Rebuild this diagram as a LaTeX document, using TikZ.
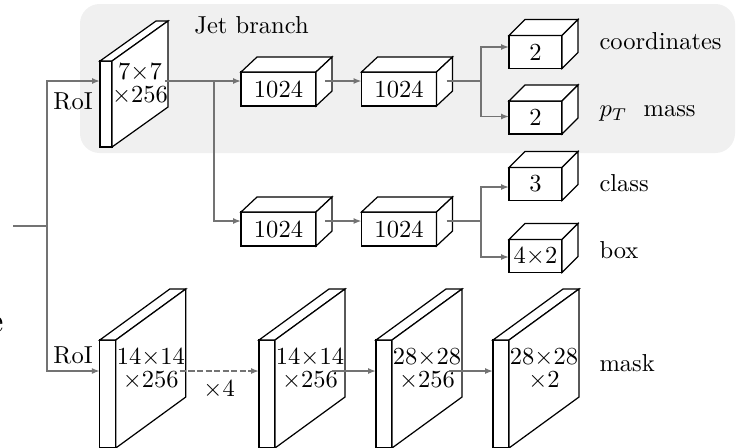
\documentclass[tikz,border=0pt]{standalone}
\usetikzlibrary{calc,arrows.meta}

\definecolor{panel}{gray}{0.94}
\definecolor{wire}{gray}{0.45}
% one drawing unit
\def\unitpx{0.408pt}

\tikzset{
  face/.style={draw=black, fill=white, line width=0.5pt, outer sep=0pt, inner sep=0pt},
  conn/.style={draw=wire, line width=0.6pt},
  arr/.style={conn, -{Latex[length=3.2pt,width=2.4pt]}},
  lbl/.style={inner sep=0pt, anchor=base west},
  % small block: width, height, depth x, depth y, text on the front
  pics/cube/.style n args={5}{code={
    \node[face, inner sep=1pt, minimum width=#1*\unitpx, minimum height=#2*\unitpx] (-f) {#5};
    \filldraw[face] (-f.north west) -- ++(#3,-#4) -- ++(#1,0) -- (-f.north east) -- cycle;
    \filldraw[face] (-f.north east) -- ++(#3,-#4) -- ++(0,#2) -- (-f.south east) -- cycle;
  }},
  % feature map: thin front, text on the large side face
  pics/fmap/.style n args={5}{code={
    \node[face, minimum width=#1*\unitpx, minimum height=#2*\unitpx] (-f) {};
    \filldraw[face] (-f.north west) -- ++(#3,-#4) -- ++(#1,0) -- (-f.north east) -- cycle;
    \filldraw[face] (-f.north east) -- ++(#3,-#4) -- ++(0,#2) -- (-f.south east) -- cycle;
    \path (-f.east) ++(#3/2,-#4/2) node[align=center, inner sep=0pt] (-t) {#5};
  }},
}

\begin{document}
\begin{tikzpicture}[x=\unitpx, y=-\unitpx]
\useasboundingbox (0,0) rectangle (738,447);

% jet branch panel
\fill[panel, rounded corners=8pt] (80,4) rectangle (735,153);
\node[lbl] (jet) at (194,33) {Jet branch};

% feature maps
\pic (m0) at (106,104) {fmap={12}{86}{56}{40}{7$\times$7\\[-2.5pt]$\times$256}};
\pic (m1) at (107.8,394) {fmap={16}{108}{70}{51}{14$\times$14\\[-2.5pt]$\times$256}};
\pic (m2) at (267,394) {fmap={16}{108}{70}{51}{14$\times$14\\[-2.5pt]$\times$256}};
\pic (m3) at (384,394) {fmap={16}{108}{70}{51}{28$\times$28\\[-2.5pt]$\times$256}};
\pic (m4) at (501,394) {fmap={16}{108}{70}{51}{28$\times$28\\[-2.5pt]$\times$2}};

% fully connected blocks
\pic (b1) at (278.5,89) {cube={75}{34}{16}{15}{1024}};
\pic (b2) at (399,89) {cube={75}{34}{16}{15}{1024}};
\pic (b3) at (278.5,229) {cube={75}{34}{16}{15}{1024}};
\pic (b4) at (399,229) {cube={75}{34}{16}{15}{1024}};

% output blocks
\pic (o1) at (535.5,52) {cube={53}{33}{16}{16}{2}};
\pic (o2) at (535.5,117.5) {cube={53}{33}{16}{16}{2}};
\pic (o3) at (535.5,184) {cube={53}{33}{16}{16}{3}};
\pic (o4) at (535.5,256) {cube={53}{33}{16}{16}{4$\times$2}};

% input and RoI connectors
\coordinate (in) at (13,226);
\coordinate (split) at (47,226);
\draw[conn] (in) -- (split);
\draw[arr] (split) |- ($(m0-f.north west)+(0,20)$);
\draw[arr] (split) |- ($(m1-f.north west)+(0,31)$);

% box / class / jet heads
\coordinate (j0) at ($(m0-f.north east)+(53,20)$);
\draw[arr] (j0) -- ($(b1-f.west)+(0,-8)$);
\coordinate (fork) at (214,81);
\draw[arr] (fork) |- ($(b3-f.west)+(0,-8)$);
\draw[arr] ($(b1-f.east)+(9,-8)$) -- ($(b2-f.west)+(0,-8)$);
\draw[arr] ($(b3-f.east)+(9,-8)$) -- ($(b4-f.west)+(0,-8)$);

\coordinate (s1) at (481,81);
\draw[conn] ($(b2-f.east)+(10,-8)$) -- (s1);
\draw[arr] (s1) |- ($(o1-f.west)+(0,-5)$);
\draw[arr] (s1) |- ($(o2-f.west)+(0,-1)$);

\coordinate (s2) at (481,221);
\draw[conn] ($(b4-f.east)+(10,-8)$) -- (s2);
\draw[arr] (s2) |- ($(o3-f.west)+(0,3)$);
\draw[arr] (s2) |- ($(o4-f.west)+(0,1)$);

% mask head
\draw[arr, dash pattern=on 2.5pt off 1pt] ($(m1-f.north east)+(64,31)$) -- ($(m2-f.north west)+(0,31)$);
\draw[arr] ($(m2-f.north east)+(57,31)$) -- ($(m3-f.north west)+(0,31)$);
\draw[arr] ($(m3-f.north east)+(57,31)$) -- ($(m4-f.north west)+(0,31)$);

% labels
\node[lbl] (roi1) at (53,109) {RoI};
\node[lbl] (roi2) at (53,363) {RoI};
\node[lbl] (rep) at (203,396) {$\times$4};
\node[lbl] (coord) at (599,49) {coordinates};
\node[lbl] (ptm) at (599,116.5) {$p_T$~~mass};
\node[lbl] (cls) at (599,191.5) {class};
\node[lbl] (bbox) at (599,258) {box};
\node[lbl] (msk) at (599,371.5) {mask};
\node[inner sep=0pt, anchor=base east, font=\Large] (cut) at (4,332.5) {e};
\end{tikzpicture}
\end{document}
